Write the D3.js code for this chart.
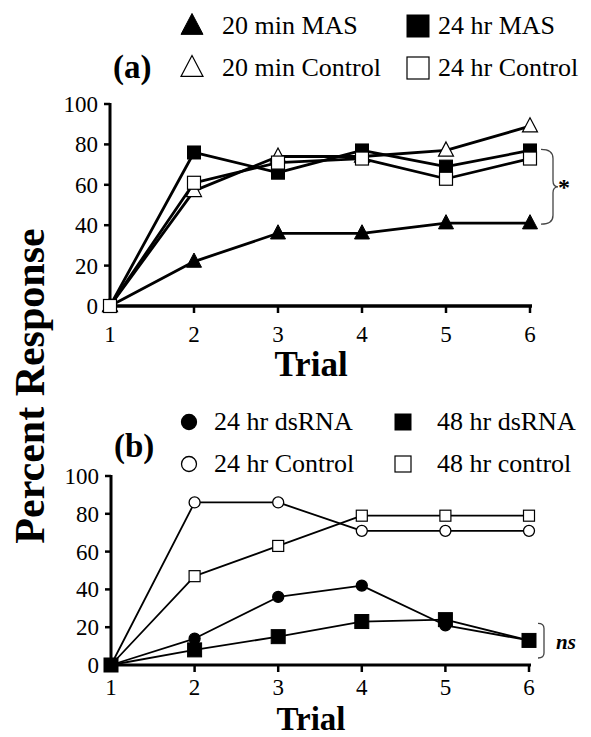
<!DOCTYPE html>
<html><head><meta charset="utf-8">
<script src="https://cdn.jsdelivr.net/npm/d3@7"></script>
<style>body{margin:0;background:#fff}svg{display:block}</style>
</head><body>
<svg id="c" width="591" height="737"></svg>
<script>
// ---------- data ----------
const trials = [1, 2, 3, 4, 5, 6];
const yTicks = [0, 20, 40, 60, 80, 100];

// panel (a)
const minMAS20      = [0, 22, 36, 36, 41, 41];
const minControl20  = [0, 57, 74, 74, 77, 89];
const hrMAS24       = [0, 76, 66, 77, 69, 77];
const hrControl24a  = [0, 61, 71, 73, 63, 73];
const legendA = ["20 min MAS", "24 hr MAS", "20 min Control", "24 hr Control"];

// panel (b)
const dsRNA24   = [0, 14, 36, 42, 21, 13];
const dsRNA48   = [0, 8, 15, 23, 24, 13];
const control24 = [0, 86, 86, 71, 71, 71];
const control48 = [0, 47, 63, 79, 79, 79];
const legendB = ["24 hr dsRNA", "48 hr dsRNA", "24 hr Control", "48 hr control"];

// ---------- drawing ----------
const svg = d3.select("#c");
const serif = "'Liberation Serif','Times New Roman',serif";

function axes(g, x, y, lw, labOff) {
  g.append("line").attr("x1", x(1)).attr("x2", x(1)).attr("y1", y(100) - 1).attr("y2", y(0) + 2)
    .attr("stroke", "#000").attr("stroke-width", 3);
  g.selectAll(".yt").data(yTicks).enter().append("line")
    .attr("x1", x(1) - 6).attr("x2", x(1)).attr("y1", d => y(d)).attr("y2", d => y(d))
    .attr("stroke", "#000").attr("stroke-width", 2.5);
  g.selectAll(".yl").data(yTicks).enter().append("text")
    .attr("x", x(1) - 12).attr("y", d => y(d) + 8).attr("text-anchor", "end")
    .attr("font-family", serif).attr("font-size", 23).text(d => d);
  g.append("line").attr("x1", x(1)).attr("x2", x(6) + 2).attr("y1", y(0)).attr("y2", y(0))
    .attr("stroke", "#000").attr("stroke-width", lw);
  g.selectAll(".xt").data(trials).enter().append("line")
    .attr("x1", d => x(d)).attr("x2", d => x(d)).attr("y1", y(0)).attr("y2", y(0) + 7)
    .attr("stroke", "#000").attr("stroke-width", 2.5);
  g.selectAll(".xl").data(trials).enter().append("text")
    .attr("x", d => x(d)).attr("y", d => y(0) + labOff).attr("text-anchor", "middle")
    .attr("font-family", serif).attr("font-size", 23).text(d => d);
}

function marker(g, type, cx, cy, s) {
  const fill = type.filled ? "#000" : "#fff";
  if (type.shape === "tri") {
    const h = s * 0.95;
    g.append("path").attr("d", `M${cx},${cy - h * 0.6}L${cx + s / 2},${cy + h * 0.4}L${cx - s / 2},${cy + h * 0.4}Z`)
      .attr("fill", fill).attr("stroke", "#000").attr("stroke-width", type.filled ? 1 : 1.2);
  } else if (type.shape === "sq") {
    g.append("rect").attr("x", cx - s / 2).attr("y", cy - s / 2).attr("width", s).attr("height", s)
      .attr("fill", fill).attr("stroke", "#000").attr("stroke-width", type.filled ? 1 : 1.2);
  } else {
    g.append("circle").attr("cx", cx).attr("cy", cy).attr("r", s / 2)
      .attr("fill", fill).attr("stroke", "#000").attr("stroke-width", 1.3);
  }
}

function series(g, x, y, vals, type, s, lw) {
  const line = d3.line().x((d, i) => x(trials[i])).y(d => y(d));
  g.append("path").attr("d", line(vals)).attr("fill", "none").attr("stroke", "#000")
    .attr("stroke-width", lw).attr("stroke-linejoin", "round");
  vals.forEach((v, i) => marker(g, type, x(trials[i]), y(v), s));
}

// ----- panel a -----
const xa = d3.scaleLinear().domain([1, 6]).range([110, 530]);
const ya = d3.scaleLinear().domain([0, 100]).range([306, 104]);
const ga = svg.append("g");
axes(ga, xa, ya, 3.5, 36);
const typesA = [
  { shape: "tri", filled: true }, { shape: "sq", filled: true },
  { shape: "tri", filled: false }, { shape: "sq", filled: false }
];
series(ga, xa, ya, minMAS20, typesA[0], 15, 2.8);
series(ga, xa, ya, minControl20, typesA[2], 15, 2.8);
series(ga, xa, ya, hrMAS24, typesA[1], 13, 2.8);
series(ga, xa, ya, hrControl24a, typesA[3], 13, 2.8);

const legAx = [222, 438], legAy = [34, 76], legAmx = [192, 418];
legendA.forEach((t, i) => {
  const col = i % 2, row = Math.floor(i / 2);
  marker(ga, typesA[i], legAmx[col], legAy[row] - 8, 22);
  ga.append("text").attr("x", legAx[col]).attr("y", legAy[row]).attr("font-family", serif)
    .attr("font-size", 26).text(t);
});
ga.append("text").attr("x", 113).attr("y", 78).attr("font-family", serif).attr("font-weight", "bold")
  .attr("font-size", 33).text("(a)");
ga.append("text").attr("x", 311).attr("y", 376).attr("text-anchor", "middle").attr("font-family", serif)
  .attr("font-weight", "bold").attr("font-size", 35).text("Trial");
const ma = (ya(77) + ya(41)) / 2;
ga.append("path").attr("d", `M541,${ya(77) - 1}Q553,${ya(77) - 1} 553,${ya(77) + 8}L553,${ma - 6}Q553,${ma} 558,${ma}Q553,${ma} 553,${ma + 6}L553,${ya(41) - 8}Q553,${ya(41) + 1} 541,${ya(41) + 1}`)
  .attr("fill", "none").attr("stroke", "#444").attr("stroke-width", 1.3);
ga.append("text").attr("x", 558).attr("y", 195).attr("font-family", serif).attr("font-weight", "bold")
  .attr("font-size", 24).text("*");

// ----- panel b -----
const xb = d3.scaleLinear().domain([1, 6]).range([111, 529]);
const yb = d3.scaleLinear().domain([0, 100]).range([665, 476]);
const gb = svg.append("g");
axes(gb, xb, yb, 3, 30);
const typesB = [
  { shape: "circ", filled: true }, { shape: "sq", filled: true },
  { shape: "circ", filled: false }, { shape: "sq", filled: false }
];
series(gb, xb, yb, control24, typesB[2], 11, 1.8);
series(gb, xb, yb, control48, typesB[3], 11, 1.8);
series(gb, xb, yb, dsRNA24, typesB[0], 11, 1.8);
series(gb, xb, yb, dsRNA48, typesB[1], 14, 1.8);

const legBx = [214, 437], legBy = [430, 472], legBmx = [189, 403];
legendB.forEach((t, i) => {
  const col = i % 2, row = Math.floor(i / 2);
  marker(gb, typesB[i], legBmx[col], legBy[row] - 8, typesB[i].shape === "circ" ? 15 : 16);
  gb.append("text").attr("x", legBx[col]).attr("y", legBy[row]).attr("font-family", serif)
    .attr("font-size", 26).text(t);
});
gb.append("text").attr("x", 114).attr("y", 457).attr("font-family", serif).attr("font-weight", "bold")
  .attr("font-size", 33).text("(b)");
gb.append("text").attr("x", 311).attr("y", 730).attr("text-anchor", "middle").attr("font-family", serif)
  .attr("font-weight", "bold").attr("font-size", 33).text("Trial");
gb.append("path").attr("d", `M538,${yb(22)}Q544,${yb(22)} 544,${yb(22) + 5}L544,${yb(0) - 12}Q544,${yb(0) - 7} 538,${yb(0) - 7}`)
  .attr("fill", "none").attr("stroke", "#444").attr("stroke-width", 1.3);
gb.append("text").attr("x", 556).attr("y", 649).attr("font-family", serif).attr("font-weight", "bold")
  .attr("font-style", "italic").attr("font-size", 21).text("ns");

svg.append("text").attr("transform", "translate(44,386) rotate(-90)").attr("text-anchor", "middle")
  .attr("font-family", serif).attr("font-weight", "bold").attr("font-size", 42).text("Percent Response");
</script>
</body></html>
